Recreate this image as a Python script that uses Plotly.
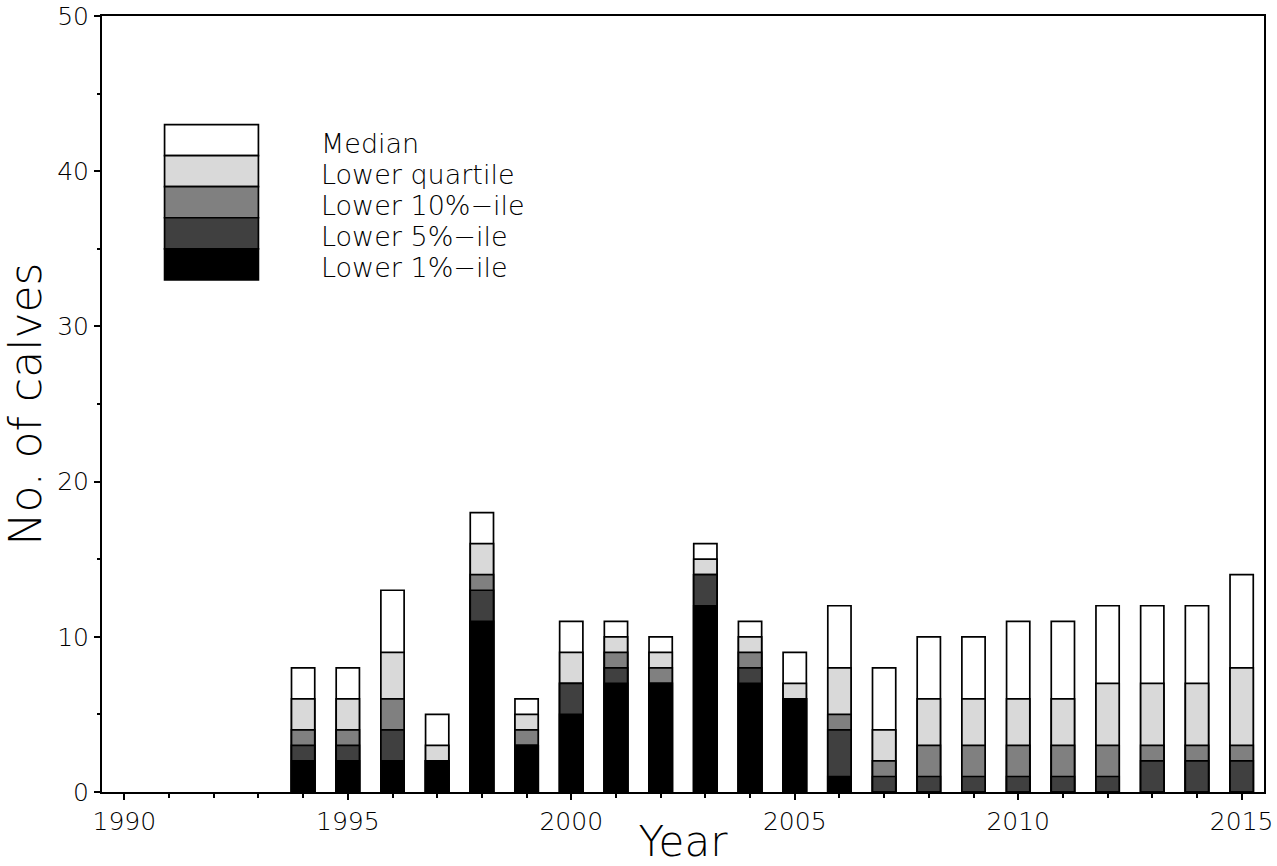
import plotly.graph_objects as go

years = list(range(1994, 2016))
median = [8, 8, 13, 5, 18, 6, 11, 11, 10, 16, 11, 9, 12, 8, 10, 10, 11, 11, 12, 12, 12, 14]
lower_quartile = [6, 6, 9, 3, 16, 5, 9, 10, 9, 15, 10, 7, 8, 4, 6, 6, 6, 6, 7, 7, 7, 8]
lower_10 = [4, 4, 6, 2, 14, 4, 7, 9, 8, 14, 9, 6, 5, 2, 3, 3, 3, 3, 3, 3, 3, 3]
lower_5 = [3, 3, 4, 2, 13, 3, 7, 8, 7, 14, 8, 6, 4, 1, 1, 1, 1, 1, 1, 2, 2, 2]
lower_1 = [2, 2, 2, 2, 11, 3, 5, 7, 7, 12, 7, 6, 1, 0, 0, 0, 0, 0, 0, 0, 0, 0]

series_names = ["Median", "Lower quartile", "Lower 10%\u2212ile", "Lower 5%\u2212ile", "Lower 1%\u2212ile"]
series_values = [median, lower_quartile, lower_10, lower_5, lower_1]
series_colors = ["#ffffff", "#d9d9d9", "#808080", "#404040", "#000000"]

x_ticks = list(range(1990, 2016, 5))
y_ticks = list(range(0, 51, 10))

FONT = "DejaVu Sans"

fig = go.Figure()
for name, vals, col in zip(series_names, series_values, series_colors):
    fig.add_trace(go.Bar(
        x=years, y=vals, name=name, width=0.52,
        marker=dict(color=col, line=dict(color="black", width=1.7)),
        showlegend=False,
    ))

# legend drawn as stacked boxes with labels (in data coordinates)
leg_x0, leg_x1, leg_text_x = 1990.9, 1993.0, 1994.35
leg_top = 43
for i, (name, col) in enumerate(zip(series_names, series_colors)):
    y1 = leg_top - 2 * i
    y0 = y1 - 2
    fig.add_shape(type="rect", xref="x", yref="y", x0=leg_x0, x1=leg_x1, y0=y0, y1=y1,
                  fillcolor=col, line=dict(color="black", width=1.7))
    fig.add_annotation(x=leg_text_x, y=(y0 + y1) / 2, xref="x", yref="y", text=name,
                       showarrow=False, xanchor="left", yanchor="middle", yshift=-3,
                       font=dict(family=FONT, size=27, color="black", weight=200))

fig.update_layout(
    barmode="overlay",
    width=1277, height=866,
    margin=dict(l=102, r=13, t=16, b=74),
    plot_bgcolor="white", paper_bgcolor="white",
    font=dict(family=FONT, color="black", weight=200),
)
fig.update_xaxes(
    range=[1989.5, 2015.5], tickmode="array", tickvals=x_ticks,
    ticks="outside", ticklen=6, tickwidth=1.5, tickcolor="black",
    minor=dict(dtick=1, ticks="outside", ticklen=4, tickwidth=1.5, tickcolor="black"),
    showline=True, linewidth=2, linecolor="black", mirror=True,
    showgrid=False, zeroline=False, automargin=False,
    tickfont=dict(family=FONT, size=25, weight=200, color="black"),
    title=dict(text="Year", font=dict(family=FONT, size=42, weight=200, color="black"), standoff=4),
)
fig.update_yaxes(
    range=[0, 50], tickmode="array", tickvals=y_ticks,
    ticks="outside", ticklen=6, tickwidth=1.5, tickcolor="black",
    minor=dict(dtick=5, ticks="outside", ticklen=3, tickwidth=1.5, tickcolor="black"),
    showline=True, linewidth=2, linecolor="black", mirror=True,
    showgrid=False, zeroline=False, automargin=False,
    tickfont=dict(family=FONT, size=25, weight=200, color="black"),
    title=dict(text="No. of calves", font=dict(family=FONT, size=44, weight=200, color="black"), standoff=12),
)

fig.write_html("out.html")
